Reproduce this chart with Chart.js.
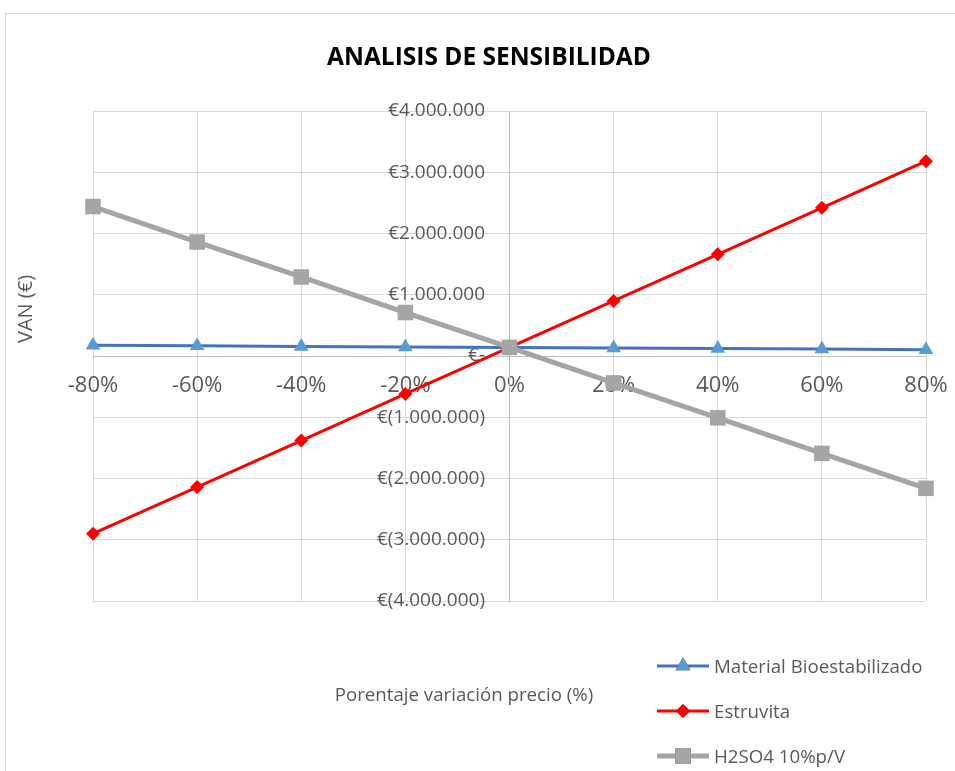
<!DOCTYPE html>
<html>
<head>
<meta charset="utf-8">
<script src="https://cdn.jsdelivr.net/npm/chart.js@4/dist/chart.umd.min.js"></script>
<style>
  body { margin: 0; background: #fff; }
  canvas { display: block; }
</style>
</head>
<body>
<canvas id="sens" width="955" height="771"></canvas>
<script>
// data
const labels = ["-80%", "-60%", "-40%", "-20%", "0%", "20%", "40%", "60%", "80%"];
const bioestabilizado = [175000, 166000, 157000, 148000, 140000, 131000, 122000, 113000, 104000];
const estruvita = [-2900000, -2140000, -1380000, -620000, 140000, 900000, 1660000, 2420000, 3180000];
const h2so4 = [2440000, 1860000, 1290000, 710000, 140000, -440000, -1010000, -1590000, -2160000];
const yTicks = [-4000000, -3000000, -2000000, -1000000, 0, 1000000, 2000000, 3000000, 4000000];

const FONT = "'Open Sans', 'Liberation Sans', sans-serif";
const TXT = "#595959";

function euro(v) {
  if (v === 0) return "€-";
  const s = Math.abs(v).toFixed(0).replace(/\B(?=(\d{3})+(?!\d))/g, ".");
  return v < 0 ? "€(" + s + ")" : "€" + s;
}

// title, axis titles, legend and outer frame
const decor = {
  id: "decor",
  afterDraw(chart) {
    const ctx = chart.ctx;
    ctx.save();
    ctx.strokeStyle = "#d9d9d9";
    ctx.lineWidth = 1;
    ctx.strokeRect(5.5, 13.5, 1000, 1000);

    ctx.fillStyle = "#000";
    ctx.font = "bold 24.5px " + FONT;
    ctx.textAlign = "center";
    ctx.textBaseline = "middle";
    ctx.fillText("ANALISIS DE SENSIBILIDAD", 489, 58);

    ctx.fillStyle = TXT;
    ctx.font = "18.7px " + FONT;
    ctx.fillText("Porentaje variación precio (%)", 464, 696);
    ctx.translate(26, 309);
    ctx.rotate(-Math.PI / 2);
    ctx.font = "20px " + FONT;
    ctx.fillText("VAN (€)", 0, 0);
    ctx.restore();

    // legend
    ctx.save();
    const rows = [
      { ds: chart.data.datasets[0], y: 666 },
      { ds: chart.data.datasets[1], y: 711 },
      { ds: chart.data.datasets[2], y: 756 }
    ];
    rows.forEach((r) => {
      ctx.strokeStyle = r.ds.borderColor;
      ctx.lineWidth = r.ds.borderWidth;
      ctx.beginPath();
      ctx.moveTo(657, r.y);
      ctx.lineTo(709, r.y);
      ctx.stroke();
      Chart.helpers.drawPoint(ctx, {
        pointStyle: r.ds.pointStyle,
        radius: r.ds.pointRadius,
        rotation: 0,
        borderWidth: 0
      }, 683, r.y);
      ctx.fillStyle = r.ds.pointBackgroundColor;
      ctx.fill();
      ctx.fillStyle = TXT;
      ctx.font = "18.7px " + FONT;
      ctx.textAlign = "left";
      ctx.textBaseline = "middle";
      ctx.fillText(r.ds.label, 714, r.y + 2);
    });
    ctx.restore();
  }
};

const ySetTicks = (scale) => {
  scale.ticks = yTicks.map((v) => ({ value: v }));
};

new Chart(document.getElementById("sens").getContext("2d"), {
  type: "line",
  data: {
    labels,
    datasets: [
      {
        label: "Material Bioestabilizado",
        data: bioestabilizado,
        order: 3,
        borderColor: "#4472C4",
        borderWidth: 3,
        pointStyle: "triangle",
        pointRadius: 8.5,
        pointBackgroundColor: "#5B9BD5",
        pointBorderWidth: 0
      },
      {
        label: "Estruvita",
        data: estruvita,
        order: 2,
        borderColor: "#FF0000",
        borderWidth: 3,
        pointStyle: "rectRot",
        pointRadius: 7,
        pointBackgroundColor: "#FF0000",
        pointBorderWidth: 0
      },
      {
        label: "H2SO4 10%p/V",
        data: h2so4,
        order: 1,
        borderColor: "#A5A5A5",
        borderWidth: 5,
        pointStyle: "rect",
        pointRadius: 11,
        pointBackgroundColor: "#A5A5A5",
        pointBorderWidth: 0
      }
    ]
  },
  options: {
    responsive: false,
    animation: false,
    layout: { padding: { left: 93, top: 111, right: 29, bottom: 170 } },
    plugins: { legend: { display: false }, title: { display: false }, tooltip: { enabled: false } },
    elements: { line: { tension: 0 } },
    scales: {
      x: {
        type: "category",
        position: { y: 0 },
        // the layout padding already leaves room for the end labels
        afterFit(scale) {
          scale.paddingLeft = 0;
          scale.paddingRight = 0;
        },
        grid: { color: "#d9d9d9", lineWidth: 1, drawTicks: false },
        border: { color: "#bfbfbf", width: 1 },
        ticks: { color: TXT, font: { family: FONT, size: 22 }, padding: 17, maxRotation: 0 }
      },
      y: {
        type: "linear",
        min: -4000000,
        max: 4000000,
        position: { x: 4 },
        afterBuildTicks: ySetTicks,
        grid: { color: "#d9d9d9", lineWidth: 1, drawTicks: false },
        border: { color: "#bfbfbf", width: 1 },
        ticks: { display: false }
      },
      // tick labels of the value axis sit a little left of the 0% line
      yLabels: {
        type: "linear",
        axis: "y",
        min: -4000000,
        max: 4000000,
        position: { x: 3.765 },
        afterBuildTicks: ySetTicks,
        grid: { display: false },
        border: { display: false },
        ticks: {
          color: TXT,
          font: { family: FONT, size: 19 },
          callback: (v) => euro(v)
        }
      }
    }
  },
  plugins: [decor]
});
</script>
</body>
</html>
